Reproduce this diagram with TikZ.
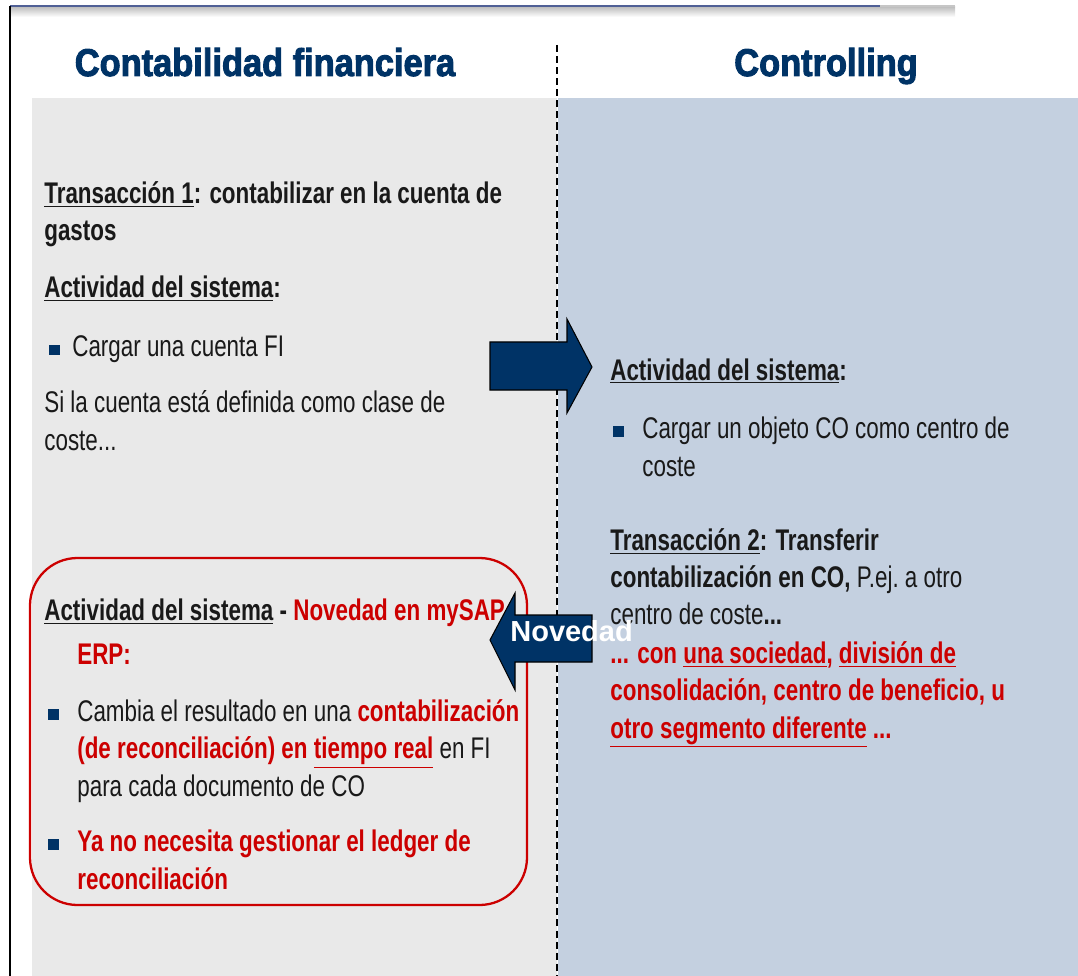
\documentclass[tikz,border=0pt]{standalone}
\usepackage{fontspec}
\setmainfont{Liberation Sans}[FakeStretch=0.75]
\newfontfamily\headfont{Liberation Sans}[FakeStretch=0.89,FakeBold=2.5]
\newfontfamily\tagfont{Liberation Sans}
\usetikzlibrary{positioning}
\definecolor{sapnavy}{RGB}{0,51,102}
\definecolor{sapred}{RGB}{204,0,0}
\definecolor{figray}{RGB}{233,233,233}
\definecolor{coblue}{RGB}{196,208,224}
\definecolor{framebar}{RGB}{80,96,150}
\newcommand{\sqb}[1][0.46cm]{\makebox[#1][l]{\textcolor{sapnavy}{\rule[0.03cm]{0.21cm}{0.22cm}}}}
\newcommand{\rd}[1]{\textcolor{sapred}{\textbf{#1}}}
\tikzset{
  txt/.style={anchor=base west, inner sep=0pt, align=left, text=black!90,
    font=\fontsize{17}{21.1}\selectfont},
  head/.style={anchor=base, inner sep=0pt, text=sapnavy,
    font=\headfont\bfseries\fontsize{22}{26}\selectfont},
  blockarrow/.style={fill=sapnavy, draw=black, line width=0.6pt}
}
\begin{document}
\begin{tikzpicture}[x=0.02cm, y=-0.02cm]
\useasboundingbox (0,0) rectangle (1078,976);
% panels
\fill[figray] (32,98) rectangle (557,976);
\fill[coblue] (558,98) rectangle (1078,976);
% frame
\shade[top color=gray!50, bottom color=white] (10,7) rectangle (955,17);
\draw[framebar, line width=1.7pt] (10,6) -- (880,6);
\draw[gray!45, line width=1.7pt] (880,6) -- (955,6);
\draw[black, line width=0.7pt] (10,6) -- (10,976);
\draw[black, line width=1.1pt, dash pattern=on 4pt off 2.3pt] (557,45) -- (557,976);
% headings
\node[head] (fi) at (265,76) {Contabilidad financiera};
\node[head] (co) at (826,76) {Controlling};
% FI side (base = last line)
\node[txt] (trans1) at (44,241) {\textbf{\underline{Transacción 1}: contabilizar en la cuenta de}\\\textbf{gastos}};
\node[txt] (act1) at (44,298) {\textbf{\underline{Actividad del sistema}:}};
\node[txt] (cargo1) at (49,357) {\sqb Cargar una cuenta FI};
\node[txt] (clase) at (44,450) {Si la cuenta está definida como clase de\\coste...};
% red box
\draw[sapred, line width=1.3pt, rounded corners=0.95cm] (30,558) rectangle (527,905);
\node[txt] (nov) at (44,664) {\textbf{\underline{Actividad del sistema} -} \rd{Novedad en mySAP}\\[0.12cm]\hspace*{0.66cm}\rd{ERP:}};
\node[txt] (cambia) at (48,796) {\sqb[0.58cm]Cambia el resultado en una \rd{contabilización}\\\hspace*{0.58cm}\rd{(de reconciliación) en \underline{tiempo real}} en FI\\\hspace*{0.58cm}para cada documento de CO};
\node[txt] (ledger) at (48,889) {\sqb[0.58cm]\rd{Ya no necesita gestionar el ledger de}\\\hspace*{0.58cm}\rd{reconciliación}};
% CO side
\node[txt] (act2) at (610,380) {\textbf{\underline{Actividad del sistema}:}};
\node[txt] (cargo2) at (613,476) {\sqb[0.58cm]Cargar un objeto CO como centro de\\\hspace*{0.58cm}coste};
\node[txt] (trans2) at (610,738) {\textbf{\underline{Transacción 2}: Transferir}\\
  \textbf{contabilización en CO,} P.ej.\ a otro\\
  centro de coste\textbf{...}\\[0.05cm]
  \rd{... con \underline{una sociedad}, \underline{división de}}\\
  \rd{consolidación, centro de beneficio, u}\\
  \rd{\underline{otro segmento diferente} ...}};
% arrows
\filldraw[blockarrow] (490,342) -- (567,342) -- (567,319) -- (592,367)
  -- (567,413) -- (567,390) -- (490,390) -- cycle;
\filldraw[blockarrow] (592,615) -- (515,615) -- (515,593) -- (490,640)
  -- (515,690) -- (515,662) -- (592,662) -- cycle;
\node[anchor=base west, inner sep=0pt, text=white,
  font=\tagfont\bfseries\fontsize{16.5}{19}\selectfont] (novtag) at (510,641) {Novedad};
\end{tikzpicture}
\end{document}
